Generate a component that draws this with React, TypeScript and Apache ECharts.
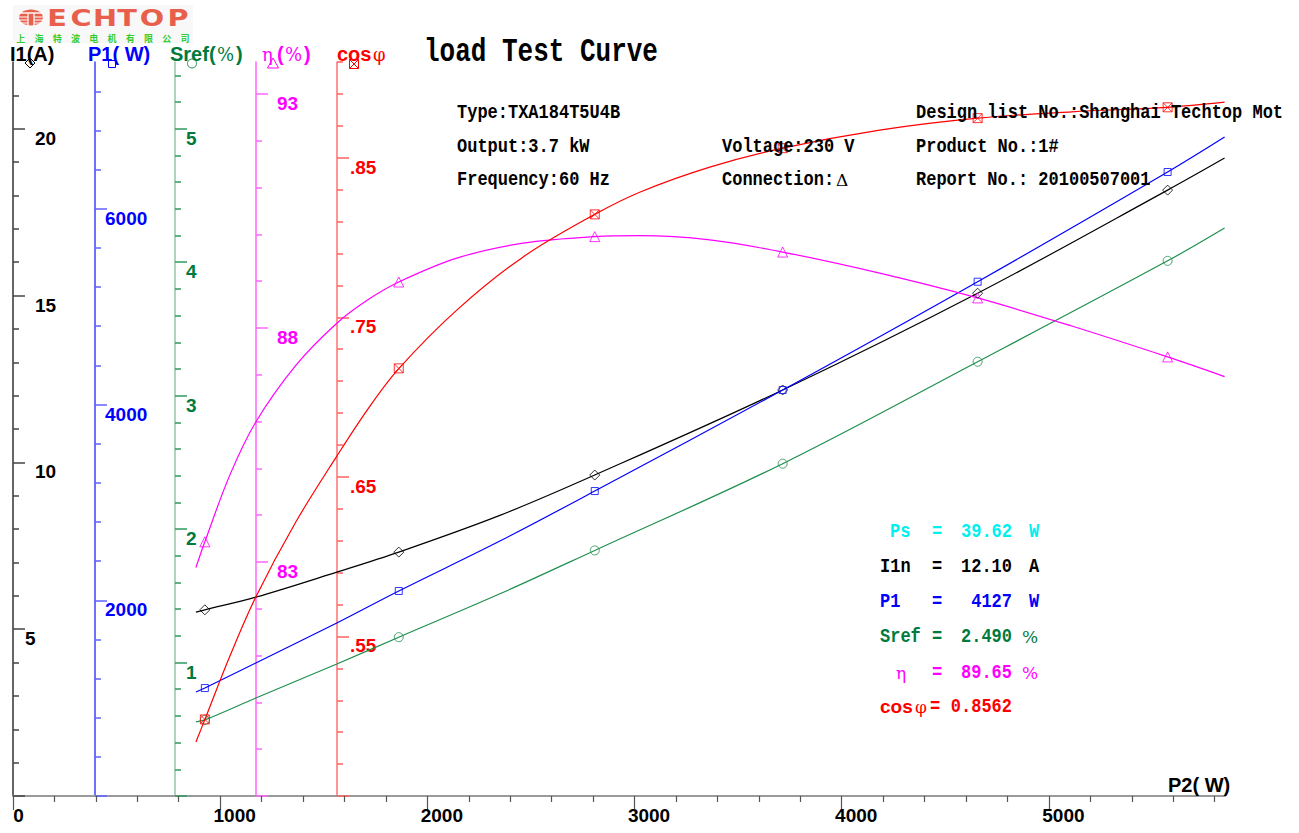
import React, { useEffect, useRef } from "react";
import * as echarts from "echarts";

// ---------- data ----------
// test points (P2 in W)
const testP2 = [926, 1862, 2808, 3715, 4656, 5573];
const testI1 = [5.58, 7.31, 9.62, 12.17, 15.07, 18.16];
const testP1 = [1103, 2095, 3116, 4148, 5255, 6376];
const testSref = [0.57, 1.19, 1.84, 2.49, 3.254, 4.01];
const testEff = [83.43, 88.98, 89.95, 89.62, 88.64, 87.38];
const testCos = [0.498, 0.718, 0.8145, 0.856, 0.8748, 0.8816];

// fitted curves
const curveP2 = [883, 926, 1172, 1563, 1862, 2350, 2808, 3715, 4656, 5573, 5848];
const curveI1 = [5.51, 5.58, 5.96, 6.71, 7.31, 8.41, 9.62, 12.17, 15.07, 18.16, 19.12];
const curveP1 = [1063, 1103, 1359, 1768, 2095, 2605, 3116, 4148, 5255, 6376, 6733];
const curveSref = [0.555, 0.57, 0.734, 0.989, 1.19, 1.515, 1.84, 2.49, 3.254, 4.01, 4.256];

const effP2 = [883, 926, 1047, 1172, 1365, 1563, 1713, 1862, 2142, 2461, 2808, 3025, 3363, 3715, 4183, 4656, 5110, 5573, 5848];
const effCurve = [82.88, 83.43, 84.86, 85.99, 87.2, 88.1, 88.6, 88.98, 89.49, 89.81, 89.95, 89.97, 89.88, 89.62, 89.17, 88.64, 88.04, 87.38, 86.96];

const cosP2 = [883, 926, 1047, 1172, 1365, 1563, 1713, 1862, 2142, 2461, 2808, 3025, 3363, 3715, 4183, 4656, 5110, 5573, 5848];
const cosCurve = [0.4838, 0.4979, 0.5377, 0.5747, 0.6217, 0.663, 0.6925, 0.7178, 0.7545, 0.7877, 0.8145, 0.8284, 0.8441, 0.856, 0.8673, 0.8748, 0.8788, 0.8816, 0.8848];

// tick labels
const xTicks = [0, 1000, 2000, 3000, 4000, 5000];
const i1Ticks = [0, 5, 10, 15, 20];
const i1Labels = [5, 10, 15, 20];
const p1Ticks = [0, 2000, 4000, 6000];
const p1Labels = [2000, 4000, 6000];
const srefTicks = [0, 1, 2, 3, 4, 5];
const srefLabels = [1, 2, 3, 4, 5];
const effTicks = [78, 83, 88, 93];
const effLabels = [83, 88, 93];
const cosTicks = [0.45, 0.55, 0.65, 0.75, 0.85];
const cosLabels = [0.55, 0.65, 0.75, 0.85];

// rated values box
const ratedNames = ["Ps", "I1n", "P1", "Sref", "η", "cos"];
const ratedValues = ["39.62", "12.10", "4127", "2.490", "89.65", "0.8562"];
const ratedUnits = ["W", "A", "W", "%", "%", ""];

const infoLeft = ["Type:TXA184T5U4B", "Output:3.7 kW", "Frequency:60 Hz"];
const infoMid = ["", "Voltage:230 V", "Connection:"];
const infoRight = ["Design list No.:Shanghai Techtop Mot", "Product No.:1#", "Report No.: 20100507001"];

// ---------- styles ----------
const SANS = "'Liberation Sans', Arial, Helvetica, sans-serif";
const MONO = "'Liberation Mono', 'DejaVu Sans Mono', monospace";
const SERIF = "'DejaVu Serif', 'Liberation Serif', serif";
const GREEN = "#007a3d";
const BLUE = "#0000ff";
const MAGENTA = "#ff00ff";
const RED = "#ff0000";
const CYAN = "#00f0f0";

const pairs = (xs: number[], ys: number[]) => xs.map((x, i) => [x, ys[i]]);

function yAxisDef(o: any) {
  return {
    type: "value",
    position: "left",
    offset: o.offset,
    min: o.min,
    max: o.max,
    interval: o.interval,
    axisLine: { show: true, onZero: false, lineStyle: { color: o.lineColor, width: 1.5 } },
    axisTick: {
      show: true,
      inside: true,
      length: 12,
      customValues: o.ticks,
      lineStyle: { color: o.tickColor, width: 1.5 },
    },
    minorTick: { show: true, splitNumber: 5, length: 6, lineStyle: { color: o.tickColor, width: 1.5 } },
    axisLabel: {
      show: true,
      inside: true,
      margin: o.margin,
      customValues: o.labels,
      color: o.labelColor,
      fontFamily: SANS,
      fontWeight: "bold",
      fontSize: 19,
      align: "left",
      verticalAlign: "top",
      formatter: o.formatter,
      rich: o.rich,
    },
    splitLine: { show: false },
    minorSplitLine: { show: false },
  };
}

function txt(x: number, y: number, text: string, o: any = {}) {
  return {
    type: "text",
    x,
    y,
    scaleX: o.scaleX ?? 1,
    scaleY: o.scaleY ?? 1,
    silent: true,
    z: 100,
    style: {
      text,
      x: 0,
      y: 0,
      fill: o.color ?? "#000",
      fontFamily: o.font ?? SANS,
      fontWeight: o.weight ?? "bold",
      fontSize: o.size ?? 19,
      align: o.align ?? "left",
      verticalAlign: "middle",
    },
  };
}

function buildGraphic() {
  const els: any[] = [];
  // logo
  els.push({ type: "rect", shape: { x: 13, y: 5, width: 180, height: 38 }, style: { fill: "#f8f8f8" }, silent: true });
  els.push({ type: "ellipse", shape: { cx: 31, cy: 17.5, rx: 12, ry: 8 }, style: { fill: "#e8604c" }, silent: true });
  els.push({ type: "line", shape: { x1: 19, y1: 13, x2: 43, y2: 13 }, style: { stroke: "#fff", lineWidth: 1.4 }, silent: true });
  [17, 20, 23].forEach((yy) => {
    els.push({ type: "line", shape: { x1: 19, y1: yy, x2: 28, y2: yy }, style: { stroke: "#fff", lineWidth: 1 }, silent: true });
    els.push({ type: "line", shape: { x1: 34, y1: yy, x2: 43, y2: yy }, style: { stroke: "#fff", lineWidth: 1 }, silent: true });
  });
  els.push({ type: "line", shape: { x1: 28, y1: 13, x2: 28, y2: 26 }, style: { stroke: "#fff", lineWidth: 1.2 }, silent: true });
  els.push({ type: "line", shape: { x1: 34, y1: 13, x2: 34, y2: 26 }, style: { stroke: "#fff", lineWidth: 1.2 }, silent: true });
  const logoLetters = ["E", "C", "H", "T", "O", "P"];
  const logoX = [57, 81, 105, 127, 152, 178];
  logoLetters.forEach((l, i) =>
    els.push(txt(logoX[i], 18.5, l, { color: "#e8604c", font: "'DejaVu Sans', sans-serif", size: 23, align: "center", scaleX: 1.25 }))
  );
  const cn = "上海特波电机有限公司".split("");
  cn.forEach((c, i) =>
    els.push(txt(20.7 + i * 18.25, 38, c, { color: "#33cc33", font: "'Noto Sans CJK SC', sans-serif", size: 9, align: "center" }))
  );

  // axis titles
  const ty = 54;
  els.push(txt(10, ty, "I1(A)", { size: 20 }));
  els.push(txt(88, ty, "P1( W)", { size: 20, color: BLUE }));
  els.push(txt(170, ty, "Sref(", { size: 20, color: GREEN }));
  els.push(txt(217, ty, "%", { size: 18, color: GREEN, font: SERIF, weight: "normal" }));
  els.push(txt(236, ty, ")", { size: 20, color: GREEN }));
  els.push(txt(262, ty, "η", { size: 18, color: MAGENTA, font: SERIF, weight: "normal" }));
  els.push(txt(277, ty, "(", { size: 20, color: MAGENTA }));
  els.push(txt(285, ty, "%", { size: 18, color: MAGENTA, font: SERIF, weight: "normal" }));
  els.push(txt(304, ty, ")", { size: 20, color: MAGENTA }));
  els.push(txt(337, ty, "cos", { size: 20, color: RED }));
  els.push(txt(373, ty, "φ", { size: 18, color: RED, font: SERIF, weight: "normal" }));

  // marker glyphs under the axis titles
  els.push({ type: "polygon", shape: { points: [[30, 58], [35, 63], [30, 68], [25, 63]] }, style: { fill: "none", stroke: "#000", lineWidth: 1 }, silent: true });
  els.push({ type: "rect", shape: { x: 108.5, y: 60.5, width: 7, height: 7 }, style: { fill: "none", stroke: BLUE, lineWidth: 1 }, silent: true });
  els.push({ type: "circle", shape: { cx: 192, cy: 63.5, r: 4.5 }, style: { fill: "none", stroke: "#1f8f4f", lineWidth: 1 }, silent: true });
  els.push({ type: "polygon", shape: { points: [[273, 58], [278.5, 68], [267.5, 68]] }, style: { fill: "none", stroke: MAGENTA, lineWidth: 1 }, silent: true });
  els.push({ type: "rect", shape: { x: 349.5, y: 59.5, width: 9, height: 9 }, style: { fill: "none", stroke: RED, lineWidth: 1 }, silent: true });
  els.push({ type: "line", shape: { x1: 349.5, y1: 59.5, x2: 358.5, y2: 68.5 }, style: { stroke: RED, lineWidth: 1 }, silent: true });
  els.push({ type: "line", shape: { x1: 358.5, y1: 59.5, x2: 349.5, y2: 68.5 }, style: { stroke: RED, lineWidth: 1 }, silent: true });

  // title and info
  els.push(txt(424, 52, "load Test Curve", { font: MONO, size: 26, scaleY: 1.3 }));
  const rowsY = [113, 147, 180];
  infoLeft.forEach((t, i) => els.push(txt(457, rowsY[i], t, { font: MONO, size: 17, scaleY: 1.2 })));
  infoMid.forEach((t, i) => t && els.push(txt(722, rowsY[i], t, { font: MONO, size: 17, scaleY: 1.2 })));
  els.push(txt(836, rowsY[2], "Δ", { font: SERIF, size: 17, weight: "normal" }));
  infoRight.forEach((t, i) => els.push(txt(916, rowsY[i], t, { font: MONO, size: 17, scaleY: 1.2 })));

  // x axis name
  els.push(txt(1168, 785, "P2( W)", { size: 20 }));

  // rated values box
  const boxY = [532, 567, 601.5, 637, 672.5, 706.5];
  const boxColors = [CYAN, "#000", BLUE, GREEN, MAGENTA, RED];
  ratedNames.forEach((n, i) => {
    const c = boxColors[i];
    if (n === "η") {
      els.push(txt(896, boxY[i], n, { font: SERIF, size: 17, weight: "normal", color: c }));
    } else if (n === "cos") {
      els.push(txt(880, boxY[i], n, { size: 19, color: c }));
      els.push(txt(915, boxY[i], "φ", { font: SERIF, size: 17, weight: "normal", color: c }));
    } else {
      els.push(txt(i === 0 ? 890 : 880, boxY[i], n, { font: MONO, size: 17, scaleY: 1.2, color: c }));
    }
    els.push(txt(n === "cos" ? 930 : 932, boxY[i], "=", { font: MONO, size: 17, scaleY: 1.2, color: c }));
    els.push(txt(1012, boxY[i], ratedValues[i], { font: MONO, size: 17, scaleY: 1.2, color: c, align: "right" }));
    const u = ratedUnits[i];
    if (u === "%") els.push(txt(1022, boxY[i], u, { font: SERIF, size: 17, weight: "normal", color: c }));
    else if (u) els.push(txt(1029, boxY[i], u, { font: MONO, size: 17, scaleY: 1.2, color: c }));
  });
  return els;
}

function lineSeries(y: number, xs: number[], ys: number[], color: string) {
  return {
    type: "line",
    xAxisIndex: 0,
    yAxisIndex: y,
    data: pairs(xs, ys),
    smooth: 0.35,
    symbol: "none",
    showSymbol: false,
    silent: true,
    z: 3,
    lineStyle: { color, width: 1.2 },
  };
}

function markerSeries(y: number, ys: number[], color: string, symbol: string, size: number) {
  return {
    type: "scatter",
    xAxisIndex: 0,
    yAxisIndex: y,
    data: pairs(testP2, ys),
    symbol,
    symbolSize: size,
    silent: true,
    z: 4,
    itemStyle: { color: "rgba(255,255,255,0)", borderColor: color, borderWidth: 1 },
  };
}

const BOXX = "path://M0,0L10,0L10,10L0,10Z M0,0L10,10 M10,0L0,10";
const labelFont = { fontFamily: SANS, fontWeight: "bold", fontSize: 19 };

export default function App() {
  const ref = useRef<HTMLDivElement>(null);
  useEffect(() => {
    const chart = echarts.init(ref.current as HTMLDivElement, null, { renderer: "svg" });
    const option: any = {
      animation: false,
      backgroundColor: "#ffffff",
      grid: { left: 13, top: 62, width: 1212, height: 734, containLabel: false, outerBoundsMode: "none" },
      xAxis: {
        type: "value",
        position: "bottom",
        min: 0,
        max: 5850,
        interval: 1000,
        axisLine: { show: true, onZero: false, lineStyle: { color: "#9a9a9a", width: 2 } },
        axisTick: { show: true, length: 14, customValues: xTicks, lineStyle: { color: "#555", width: 1.2 } },
        minorTick: { show: true, splitNumber: 5, length: 6, lineStyle: { color: "#555", width: 1.2 } },
        axisLabel: {
          show: true,
          customValues: xTicks,
          margin: 10,
          color: "#000",
          ...labelFont,
          padding: [0, 0, 0, 29],
          formatter: (v: number) => (v === 0 ? "{z|0}" : String(v)),
          rich: { z: { ...labelFont, color: "#000", padding: [0, 18, 0, 0] } },
        },
        splitLine: { show: false },
        minorSplitLine: { show: false },
      },
      yAxis: [
        yAxisDef({
          offset: 0, min: 0, max: 22, interval: 5, lineColor: "#333", tickColor: "#444", labelColor: "#000",
          ticks: i1Ticks, labels: i1Labels, margin: 12,
          formatter: (v: number) => (v === 5 ? "{a|5}" : "{b|" + v + "}"),
          rich: { a: { ...labelFont, color: "#000" }, b: { ...labelFont, color: "#000", padding: [0, 0, 0, 10] } },
        }),
        yAxisDef({ offset: -82, min: 0, max: 7500, interval: 2000, lineColor: "#4040ff", tickColor: "#6060ff", labelColor: BLUE, ticks: p1Ticks, labels: p1Labels, margin: 10, formatter: (v: number) => String(v) }),
        yAxisDef({ offset: -162, min: 0, max: 5.5, interval: 1, lineColor: "#8ec8a6", tickColor: "#2e9a5e", labelColor: GREEN, ticks: srefTicks, labels: srefLabels, margin: 11, formatter: (v: number) => String(v) }),
        yAxisDef({ offset: -243, min: 78, max: 93.68, interval: 5, lineColor: "#ff66ff", tickColor: "#ff66ff", labelColor: MAGENTA, ticks: effTicks, labels: effLabels, margin: 21, formatter: (v: number) => String(v) }),
        yAxisDef({ offset: -324, min: 0.45, max: 0.91, interval: 0.1, lineColor: "#ff7070", tickColor: "#ff6060", labelColor: RED, ticks: cosTicks, labels: cosLabels, margin: 13, formatter: (v: number) => v.toFixed(2).replace(/^0/, "") }),
      ],
      series: [
        lineSeries(0, curveP2, curveI1, "#000000"),
        lineSeries(1, curveP2, curveP1, BLUE),
        lineSeries(2, curveP2, curveSref, "#1f8f4f"),
        lineSeries(3, effP2, effCurve, MAGENTA),
        lineSeries(4, cosP2, cosCurve, RED),
        markerSeries(0, testI1, "#000000", "diamond", 10),
        markerSeries(1, testP1, BLUE, "rect", 7),
        markerSeries(2, testSref, "#1f8f4f", "circle", 9),
        markerSeries(3, testEff, MAGENTA, "triangle", 10),
        markerSeries(4, testCos, RED, BOXX, 9),
      ],
      graphic: { elements: buildGraphic() },
    };
    chart.setOption(option);
    return () => chart.dispose();
  }, []);
  return (
    <div
      ref={ref}
      style={{ position: "absolute", left: 0, top: 0, width: 1299, height: 833, background: "#fff" }}
    />
  );
}
